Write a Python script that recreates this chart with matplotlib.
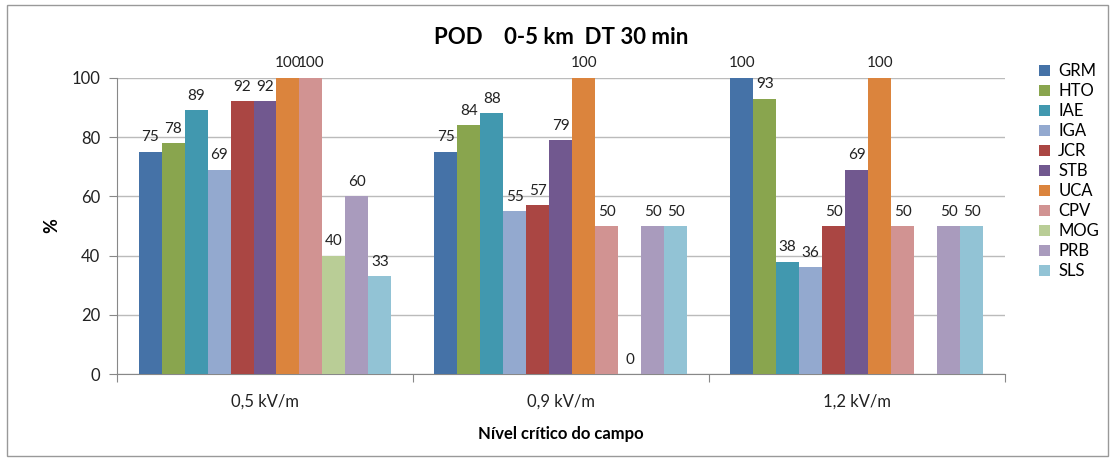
import numpy as np
import matplotlib.pyplot as plt
from matplotlib.patches import Rectangle

plt.rcParams['font.family'] = ['Lato', 'DejaVu Sans']

groups = ["0,5 kV/m", "0,9 kV/m", "1,2 kV/m"]
stations = ["GRM", "HTO", "IAE", "IGA", "JCR", "STB", "UCA", "CPV", "MOG", "PRB", "SLS"]
colors = ["#4572A7", "#89A54E", "#4198AF", "#93A9CF", "#AA4643", "#71588F",
          "#DB843D", "#D19392", "#B9CD96", "#A99BBD", "#92C3D5"]

# values per station: [0,5  0,9  1,2]
grm = [75, 75, 100]
hto = [78, 84, 93]
iae = [89, 88, 38]
iga = [69, 55, 36]
jcr = [92, 57, 50]
stb = [92, 79, 69]
uca = [100, 100, 100]
cpv = [100, 50, 50]
mog = [40, 0, np.nan]
prb = [60, 50, 50]
sls = [33, 50, 50]
values = [grm, hto, iae, iga, jcr, stb, uca, cpv, mog, prb, sls]

fig = plt.figure(figsize=(11.15, 4.63), dpi=100)
ax = fig.add_axes([0.105, 0.192, 0.796, 0.640])

n = len(stations)
bar_w = 1 / (n + 1.87)
x = np.arange(len(groups)) + 0.5

for i, (name, vals, col) in enumerate(zip(stations, values, colors)):
    pos = x + (i - (n - 1) / 2) * bar_w
    vals = np.array(vals, dtype=float)
    ax.bar(pos, np.nan_to_num(vals), width=bar_w, color=col, label=name, zorder=3)
    for p, v in zip(pos, vals):
        if not np.isnan(v):
            ax.text(p, v + 2.5, "%d" % v, ha="center", va="bottom", fontsize=11,
                    color="#222222", zorder=4)

ax.set_xlim(0, 3)
ax.set_ylim(0, 100)
ax.set_yticks(range(0, 101, 20))
ax.set_xticks([0, 1, 2, 3])
ax.set_xticklabels([])
ax.set_xticks(x, minor=True)
ax.set_xticklabels(groups, minor=True, fontsize=12)
ax.tick_params(axis="x", which="major", length=6, direction="out", colors="#888888")
ax.tick_params(axis="x", which="minor", length=0, pad=14, labelcolor="#222222")
ax.tick_params(axis="y", length=6, direction="out", colors="#888888",
               labelcolor="#222222", labelsize=12, pad=6)
ax.yaxis.grid(True, color="#BBBBBB", linewidth=1, zorder=0)
for side in ["top", "right"]:
    ax.spines[side].set_visible(False)
for side in ["left", "bottom"]:
    ax.spines[side].set_color("#888888")

ax.set_ylabel("%", fontsize=13, fontweight="bold", labelpad=8)
ax.set_xlabel("Nível crítico do campo", fontsize=12, fontweight="bold", labelpad=12)
fig.text(0.503, 0.918, "POD    0-5 km  DT 30 min", ha="center", va="center",
         fontsize=16, fontweight="bold")

ax.legend(loc="upper left", bbox_to_anchor=(1.022, 1.10), frameon=False,
          fontsize=12, handlelength=0.65, handleheight=0.65, handletextpad=0.5,
          labelspacing=0.24)

fig.patches.append(Rectangle((0.006, 0.015), 0.988, 0.975, transform=fig.transFigure,
                             fill=False, edgecolor="#999999", linewidth=1))

fig.savefig("out.png", dpi=100)
